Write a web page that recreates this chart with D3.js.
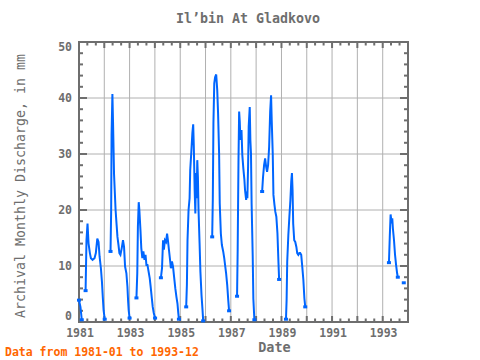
<!DOCTYPE html>
<html><head><meta charset="utf-8">
<script src="https://cdn.jsdelivr.net/npm/d3@7"></script>
<style>body{margin:0;background:#fff}svg{display:block}</style>
</head><body>
<svg id="c" width="480" height="360"></svg>
<script>
const title = "Il\u2019bin At Gladkovo";
const yLabel = "Archival Monthly Discharge, in mm";
const xLabel = "Date";
const note = "Data from 1981-01 to 1993-12";
const xTickYears = [1981, 1983, 1985, 1987, 1989, 1991, 1993];
const yTicks = [0, 10, 20, 30, 40, 50];

// null marks a gap between measured periods
const dates = [
"1981-01-01","1981-01-22","1981-02-10",null,
"1981-04-06","1981-04-19","1981-05-04","1981-05-19","1981-06-07","1981-06-22","1981-07-16","1981-08-13","1981-09-01","1981-09-22","1981-10-10","1981-10-25","1981-11-13","1981-11-28","1981-12-10","1981-12-22","1982-01-07",null,
"1982-04-01","1982-04-10","1982-04-16","1982-04-28","1982-05-07","1982-05-22","1982-06-13","1982-06-28","1982-07-10","1982-07-25","1982-08-07","1982-08-22","1982-09-10","1982-09-28","1982-10-13","1982-10-28","1982-11-16","1982-12-01","1982-12-10","1982-12-19","1983-01-01",null,
"1983-04-10","1983-04-22","1983-05-01","1983-05-13","1983-05-22","1983-06-07","1983-06-19","1983-07-04","1983-07-19","1983-08-04","1983-08-19","1983-09-01","1983-09-16","1983-09-28","1983-10-19","1983-11-01","1983-11-16","1983-12-01","1983-12-16","1984-01-04",null,
"1984-03-28","1984-04-13","1984-04-28","1984-05-10","1984-05-25","1984-06-10","1984-06-25","1984-07-07","1984-07-22","1984-08-07","1984-08-19","1984-09-04","1984-09-19","1984-10-04","1984-10-22","1984-11-07","1984-11-22","1984-12-04","1984-12-13",null,
"1985-03-28","1985-04-07","1985-04-16","1985-05-01","1985-05-16","1985-05-25","1985-06-10","1985-06-25","1985-07-07","1985-07-16","1985-07-28","1985-08-07","1985-08-16","1985-08-25","1985-09-04","1985-09-13","1985-09-22","1985-10-07","1985-10-19","1985-11-04","1985-11-19","1985-11-28",null,
"1986-04-07","1986-04-16","1986-04-25","1986-05-07","1986-05-19","1986-06-04","1986-06-19","1986-07-01","1986-07-16","1986-07-25","1986-08-10","1986-08-25","1986-09-13","1986-09-28","1986-10-13","1986-10-25","1986-11-10","1986-11-25","1986-12-07",null,
"1987-04-01","1987-04-10","1987-04-22","1987-05-01","1987-05-10","1987-05-19","1987-06-04","1987-06-16","1987-07-01","1987-07-16","1987-07-25","1987-08-10","1987-08-19","1987-08-28","1987-09-07","1987-09-16","1987-10-01","1987-10-10","1987-10-19","1987-10-28","1987-11-13","1987-11-22","1987-12-07",null,
"1988-03-28","1988-04-10","1988-04-25","1988-05-10","1988-05-25","1988-06-07","1988-06-22","1988-07-07","1988-07-22","1988-08-04","1988-08-13","1988-08-28","1988-09-07","1988-09-22","1988-10-04","1988-10-19","1988-11-04","1988-11-19","1988-11-28",null,
"1989-03-07","1989-03-16","1989-03-25","1989-04-10","1989-04-25","1989-05-10","1989-05-22","1989-06-01","1989-06-10","1989-06-19","1989-07-04","1989-07-19","1989-08-04","1989-08-16","1989-09-01","1989-09-16","1989-09-28","1989-10-13","1989-10-28","1989-11-13","1989-11-28","1989-12-10",null,
"1993-04-01","1993-04-13","1993-04-25","1993-05-10","1993-05-19","1993-05-28","1993-06-13","1993-06-28","1993-07-13","1993-07-28","1993-08-07",null,
"1993-11-01"
];
const values = [
3.9,2.7,0.4,null,
5.6,14.6,17.6,14.0,12.3,11.4,11.1,11.4,12.3,14.9,14.3,11.7,9.6,7.2,4.5,2.1,0.5,null,
12.6,19.7,33.4,40.7,35.8,26.3,20.0,17.3,15.2,13.75,12.3,12.0,13.2,14.6,13.4,9.9,8.7,6.3,3.9,2.1,0.7,null,
4.3,8.7,17.0,21.4,20.0,16.4,13.2,11.4,12.6,11.1,12.0,10.2,10.2,9.3,7.8,6.3,4.5,2.7,1.6,0.7,null,
7.9,9.6,14.6,12.9,14.6,14.3,15.8,14.6,12.9,11.1,9.6,10.8,9.9,8.1,6.0,4.5,3.3,1.6,0.5,null,
2.7,6.6,14.6,20.0,22.1,27.1,30.4,33.7,35.3,31.3,23.6,19.4,26.6,22.1,28.9,25.9,20.0,14.1,9.0,4.8,2.1,0.2,null,
15.2,21.8,35.5,42.6,43.7,44.2,41.4,37.3,30.1,21.2,15.8,13.75,12.6,11.4,9.9,8.7,6.6,3.9,2.0,null,
4.6,12.9,29.2,37.6,35.8,32.5,34.3,29.8,27.4,25.4,23.6,21.8,23.3,22.1,27.7,34.9,38.4,32.5,30.1,21.2,11.7,4.2,0.4,null,
23.3,25.9,28.0,29.2,27.7,26.8,28.0,31.3,37.6,40.5,36.1,30.1,22.7,20.9,19.7,18.8,15.8,10.5,7.6,null,
0.5,3.9,10.8,15.5,18.8,21.8,25.1,26.6,23.6,17.6,14.6,14.3,13.4,12.3,12.0,12.3,12.3,12.0,9.9,7.5,4.2,2.7,null,
10.6,15.2,19.2,17.6,18.5,16.7,14.6,12.0,10.2,8.7,8.0,null,
7.0
];

const parse = d3.timeParse("%Y-%m-%d");
const data = dates.map((d, i) => ({ date: d ? parse(d) : null, value: values[i] }));

const svg = d3.select("#c");
const L = 79, R = 408, T = 42, B = 322;
const x = d3.scaleTime().domain([new Date(1981, 0, 1), new Date(1994, 0, 1)]).range([L, R]);
const y = d3.scaleLinear().domain([0, 50]).range([B, T]);
const gray = "#6e6e6e";
const font = "'DejaVu Sans Mono', monospace";

// gridlines
const years = d3.timeYear.range(new Date(1982, 0, 1), new Date(1994, 0, 1));
svg.append("g").selectAll("line").data(years).join("line")
  .attr("x1", d => x(d)).attr("x2", d => x(d)).attr("y1", T).attr("y2", B)
  .attr("stroke", "#b0b0b0").attr("stroke-width", 1);
svg.append("g").selectAll("line").data([10, 20, 30, 40]).join("line")
  .attr("x1", L).attr("x2", R).attr("y1", d => y(d)).attr("y2", d => y(d))
  .attr("stroke", "#b0b0b0").attr("stroke-width", 1);

// ticks (inward, all four sides)
const minorX = d3.timeMonth.every(4).range(new Date(1981, 0, 1), new Date(1994, 0, 2));
const tg = svg.append("g").attr("stroke", gray).attr("stroke-width", 2);
minorX.forEach(d => {
  const major = d.getMonth() === 0;
  const len = major ? 6 : 3.5;
  tg.append("line").attr("x1", x(d)).attr("x2", x(d)).attr("y1", B).attr("y2", B - len);
  tg.append("line").attr("x1", x(d)).attr("x2", x(d)).attr("y1", T).attr("y2", T + len);
});
d3.range(0, 51, 2).forEach(v => {
  const len = v % 10 === 0 ? 8 : 4;
  tg.append("line").attr("x1", L).attr("x2", L + len).attr("y1", y(v)).attr("y2", y(v));
  tg.append("line").attr("x1", R).attr("x2", R - len).attr("y1", y(v)).attr("y2", y(v));
});

// frame
svg.append("rect").attr("x", L).attr("y", T).attr("width", R - L).attr("height", B - T)
  .attr("fill", "none").attr("stroke", gray).attr("stroke-width", 2);

// data line
const line = d3.line().defined(d => d.value !== null).x(d => x(d.date)).y(d => y(d.value));
svg.append("path").datum(data).attr("d", line)
  .attr("fill", "none").attr("stroke", "#0066ff").attr("stroke-width", 2).attr("stroke-linejoin", "miter");

// markers at the ends of each measured run
const ends = data.filter((d, i) => d.value !== null &&
  (i === 0 || data[i - 1].value === null || i === data.length - 1 || data[i + 1].value === null));
svg.append("g").selectAll("rect").data(ends).join("rect")
  .attr("x", d => x(d.date) - 2).attr("y", d => y(d.value) - 1.5)
  .attr("width", 4).attr("height", 3).attr("fill", "#0066ff");

// tick labels
svg.append("g").selectAll("text").data(xTickYears).join("text")
  .attr("x", d => x(new Date(d, 0, 1)) + 1).attr("y", 337)
  .attr("text-anchor", "middle").attr("font-family", font).attr("font-size", 11.5)
  .attr("font-weight", "bold").attr("fill", gray).text(d => d);
svg.append("g").selectAll("text").data(yTicks).join("text")
  .attr("x", 72).attr("y", d => d === 0 ? 320 : d === 50 ? 51 : y(d) + 4)
  .attr("text-anchor", "end").attr("font-family", font).attr("font-size", 11.5)
  .attr("font-weight", "bold").attr("fill", gray).text(d => d);

// titles
svg.append("text").attr("x", 248).attr("y", 23).attr("text-anchor", "middle")
  .attr("font-family", font).attr("font-size", 13.3).attr("font-weight", "bold")
  .attr("fill", gray).text(title);
svg.append("text").attr("x", 274.5).attr("y", 352).attr("text-anchor", "middle")
  .attr("font-family", font).attr("font-size", 13.5).attr("font-weight", "bold")
  .attr("fill", gray).text(xLabel);
svg.append("text").attr("transform", "translate(25,186) rotate(-90)").attr("text-anchor", "middle")
  .attr("font-family", font).attr("font-size", 13.3)
  .attr("fill", gray).text(yLabel);
svg.append("text").attr("x", 5).attr("y", 356)
  .attr("font-family", font).attr("font-size", 11.5).attr("font-weight", "bold")
  .attr("fill", "#ff6600").text(note);
</script>
</body></html>
